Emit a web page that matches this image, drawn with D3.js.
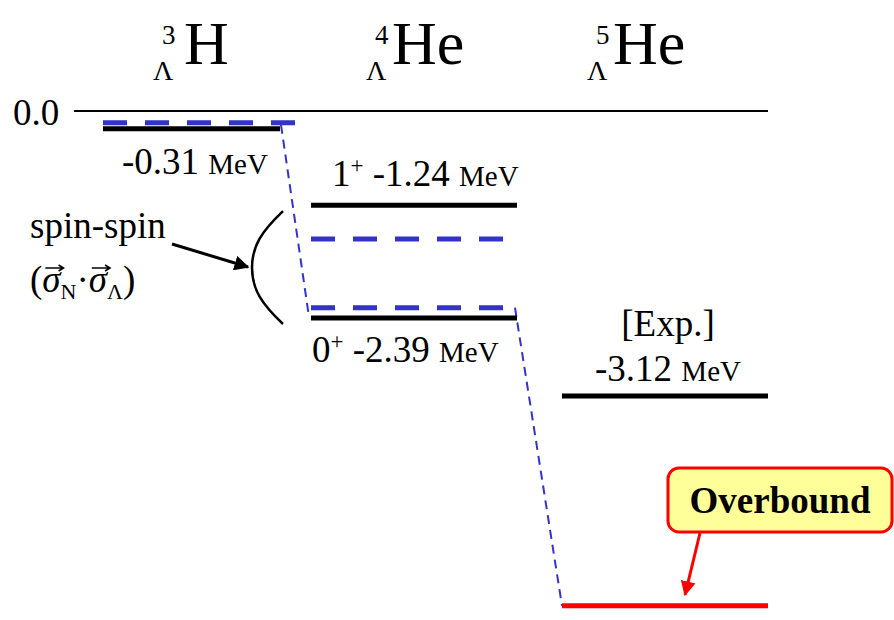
<!DOCTYPE html>
<html>
<head>
<meta charset="utf-8">
<script src="https://cdn.jsdelivr.net/npm/d3@7/dist/d3.min.js"></script>
<style>
  html, body { margin: 0; padding: 0; background: #fff; }
  svg { display: block; }
</style>
</head>
<body>
<svg id="chart" width="894" height="620" font-family="'Liberation Serif', 'Times New Roman', serif"></svg>
<script>
// Hypernuclei shown in each column
const nucleiMass = [3, 4, 5];
const nucleiSymbol = ["H", "He", "He"];

// Experimental Λ binding energies (MeV) and the column each belongs to
const expEnergy = [-0.31, -1.24, -2.39, -3.12];
const expColumn = [0, 1, 1, 2];

// Calculated levels (MeV): dashed blue where close to data, red where overbound
const calcEnergy = [-0.22, -1.60, -2.29, -4.94];
const calcColumn = [0, 1, 1, 2];
const calcOverbound = [false, false, false, true];

const blue = "#3333cc";
const red = "#ff0000";

const svg = d3.select("#chart");

// Energy axis: compressed power scale so shallow levels stay readable
const y = d3.scalePow().exponent(1.2).domain([0, 5]).range([111, 613]);
const yE = e => y(Math.abs(e));

// Column extents for the level bars
const colX0 = [103, 311, 562];
const colX1 = [280, 517, 768];
const calcX1 = [295, 503, 768];

// Zero reference line
svg.append("line")
  .attr("x1", 74).attr("x2", 768)
  .attr("y1", yE(0)).attr("y2", yE(0))
  .attr("stroke", "#000").attr("stroke-width", 2);
svg.append("text").attr("x", 13).attr("y", yE(0) + 14)
  .attr("font-size", 37).text("0.0");

// Column titles: hypernucleus symbols
const titleX = [153, 366, 587];
nucleiMass.forEach((A, i) => {
  const g = svg.append("g");
  g.append("text").attr("x", titleX[i]).attr("y", 80).attr("font-size", 28).text("Λ");
  g.append("text").attr("x", titleX[i] + 9).attr("y", 44).attr("font-size", 27).text(A);
  g.append("text").attr("x", titleX[i] + (i === 0 ? 31 : 26)).attr("y", 64)
    .attr("font-size", 62).text(nucleiSymbol[i]);
});

// Thin dashed connectors linking the calculated ground states
const conn = [
  [colX1[0] + 1, yE(calcEnergy[0]) + 2, colX0[1] - 2, yE(expEnergy[2]) - 1],
  [colX1[1] - 2, yE(calcEnergy[2]), colX0[2], yE(calcEnergy[3])]
];
svg.selectAll("line.conn").data(conn).join("line")
  .attr("class", "conn")
  .attr("x1", d => d[0]).attr("y1", d => d[1])
  .attr("x2", d => d[2]).attr("y2", d => d[3])
  .attr("stroke", blue).attr("stroke-width", 2)
  .attr("stroke-dasharray", "9,6");

// Experimental levels
svg.selectAll("line.exp").data(expEnergy).join("line")
  .attr("class", "exp")
  .attr("x1", (d, i) => colX0[expColumn[i]])
  .attr("x2", (d, i) => colX1[expColumn[i]])
  .attr("y1", d => yE(d)).attr("y2", d => yE(d))
  .attr("stroke", "#000").attr("stroke-width", 5);

// Calculated levels
svg.selectAll("line.calc").data(calcEnergy).join("line")
  .attr("class", "calc")
  .attr("x1", (d, i) => colX0[calcColumn[i]])
  .attr("x2", (d, i) => calcX1[calcColumn[i]])
  .attr("y1", d => yE(d)).attr("y2", d => yE(d))
  .attr("stroke", (d, i) => calcOverbound[i] ? red : blue)
  .attr("stroke-width", 5)
  .attr("stroke-dasharray", (d, i) => calcOverbound[i] ? null : "24,18");

// Level labels
function levelLabel(x, yPos, parts, anchor) {
  const t = svg.append("text").attr("x", x).attr("y", yPos)
    .attr("text-anchor", anchor || "start");
  parts.forEach(p => {
    const s = t.append("tspan").attr("font-size", p.size).text(p.text);
    if (p.dy) s.attr("dy", p.dy);
  });
  return t;
}
const fmt = v => v.toFixed(2);
const big = 37, small = 29;
levelLabel(122, yE(expEnergy[0]) + 45, [
  { text: fmt(expEnergy[0]) + " ", size: big }, { text: "MeV", size: small }]);
levelLabel(332, yE(expEnergy[1]) - 19, [
  { text: "1", size: big }, { text: "+", size: 23, dy: -13 },
  { text: " " + fmt(expEnergy[1]) + " ", size: big, dy: 13 }, { text: "MeV", size: small }]);
levelLabel(312, yE(expEnergy[2]) + 44, [
  { text: "0", size: big }, { text: "+", size: 23, dy: -13 },
  { text: " " + fmt(expEnergy[2]) + " ", size: big, dy: 13 }, { text: "MeV", size: small }]);
levelLabel(668, yE(expEnergy[3]) - 60, [{ text: "[Exp.]", size: big }], "middle");
levelLabel(668, yE(expEnergy[3]) - 15, [
  { text: fmt(expEnergy[3]) + " ", size: big }, { text: "MeV", size: small }], "middle");

// Bracket spanning the 1+ / 0+ doublet
const bTop = yE(expEnergy[1]) + 6, bBot = yE(expEnergy[2]) + 6, bMid = (bTop + bBot) / 2;
svg.append("path")
  .attr("d", `M283,${bTop} C262,${bTop + 20} 252,${bMid - 22} 252,${bMid} C252,${bMid + 22} 262,${bBot - 20} 283,${bBot}`)
  .attr("fill", "none").attr("stroke", "#000").attr("stroke-width", 2.5);

// Arrowheads
const defs = svg.append("defs");
[["arrowBlack", "#000"], ["arrowRed", red]].forEach(([id, c]) => {
  defs.append("marker").attr("id", id)
    .attr("viewBox", "0 0 10 10").attr("refX", 9).attr("refY", 5)
    .attr("markerWidth", 5).attr("markerHeight", 5)
    .attr("markerUnits", "strokeWidth").attr("orient", "auto")
    .append("path").attr("d", "M0,0 L10,5 L0,10 z").attr("fill", c);
});

// Spin-spin annotation
svg.append("text").attr("x", 30).attr("y", 238).attr("font-size", 37).text("spin-spin");
svg.append("line").attr("x1", 172).attr("y1", 244).attr("x2", 248).attr("y2", 267)
  .attr("stroke", "#000").attr("stroke-width", 3).attr("marker-end", "url(#arrowBlack)");

const sig = svg.append("text").attr("x", 30).attr("y", 292).attr("font-size", 37);
sig.append("tspan").text("(");
sig.append("tspan").attr("font-style", "italic").text("σ");
sig.append("tspan").attr("font-size", 22).attr("dy", 7).text("N");
sig.append("tspan").attr("dy", -7).text("·");
sig.append("tspan").attr("font-style", "italic").text("σ");
sig.append("tspan").attr("font-size", 22).attr("dy", 7).text("Λ");
sig.append("tspan").attr("dy", -7).text(")");

// Vector arrows over the sigmas
const sn = sig.node();
const chars = sn.textContent;
for (let i = 0; i < chars.length; i++) {
  if (chars[i] !== "σ") continue;
  const s = sn.getStartPositionOfChar(i), e = sn.getEndPositionOfChar(i);
  const cx0 = s.x + 3, cx1 = e.x + 3, ay = 268;
  svg.append("path")
    .attr("d", `M${cx0},${ay} L${cx1},${ay} M${cx1 - 5},${ay - 3} L${cx1},${ay} L${cx1 - 5},${ay + 3}`)
    .attr("fill", "none").attr("stroke", "#000").attr("stroke-width", 1.5);
}

// Overbound callout
svg.append("rect").attr("x", 668).attr("y", 468).attr("width", 224).attr("height", 64)
  .attr("rx", 11).attr("fill", "#ffff99").attr("stroke", red).attr("stroke-width", 3);
svg.append("text").attr("x", 780).attr("y", 513).attr("text-anchor", "middle")
  .attr("font-size", 37).attr("font-weight", "bold").text("Overbound");
svg.append("line").attr("x1", 700).attr("y1", 533).attr("x2", 685).attr("y2", yE(calcEnergy[3]) - 11)
  .attr("stroke", red).attr("stroke-width", 3).attr("marker-end", "url(#arrowRed)");
</script>
</body>
</html>
